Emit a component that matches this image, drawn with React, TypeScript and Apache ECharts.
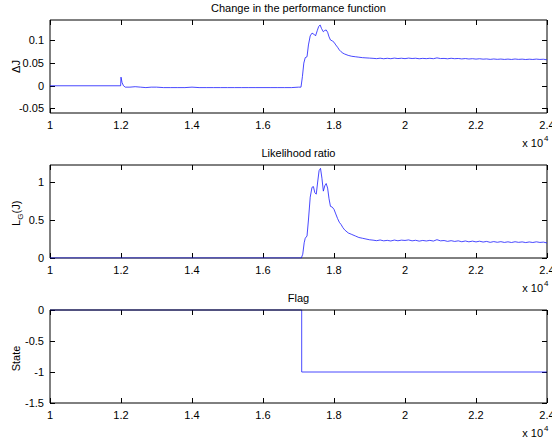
import React, { useEffect, useRef } from "react";
import * as echarts from "echarts";

// ---- Data ----
const dJTime = [
  10000, 11990, 12000, 12030, 12070, 12120, 12250, 12400, 12550, 12700, 12850, 13000, 13200, 13400, 13600, 13800,
  14000, 14200, 14400, 14600, 14800, 15000, 15200, 15400, 15600, 15800, 16000, 16200, 16400, 16600, 16800, 17000,
  17070, 17110, 17150, 17190, 17240, 17280, 17330, 17380, 17430, 17480, 17530, 17570, 17610, 17650, 17700, 17740,
  17780, 17820, 17860, 17900, 17950, 18000, 18050, 18100, 18150, 18200, 18250, 18300, 18400, 18500, 18600, 18700,
  18800, 18900, 19000, 19100, 19200, 19300, 19400, 19500, 19600, 19700, 19800, 19900, 20000, 20100, 20200, 20300,
  20400, 20500, 20600, 20700, 20800, 20900, 21000, 21100, 21200, 21300, 21400, 21500, 21600, 21700, 21800, 21900,
  22000, 22100, 22200, 22300, 22400, 22500, 22600, 22700, 22800, 22900, 23000, 23100, 23200, 23300, 23400, 23500,
  23600, 23700, 23800, 23900, 24000,
];
const dJValues = [
  0, 0, 0.019, 0.007, 0.0, -0.003, -0.003, -0.002, -0.003, -0.004, -0.003, -0.003, -0.004, -0.004, -0.004, -0.004,
  -0.003, -0.004, -0.004, -0.004, -0.004, -0.004, -0.004, -0.004, -0.004, -0.004, -0.004, -0.004, -0.004, -0.004, -0.004, -0.003,
  -0.003, 0.02, 0.05, 0.062, 0.064, 0.09, 0.11, 0.116, 0.114, 0.11, 0.122, 0.131, 0.134, 0.126, 0.119, 0.122,
  0.123, 0.118, 0.108, 0.101, 0.099, 0.096, 0.09, 0.085, 0.079, 0.075, 0.072, 0.07, 0.067, 0.065, 0.064, 0.063,
  0.062, 0.0615, 0.061, 0.0605, 0.0598, 0.0608, 0.0596, 0.0606, 0.0597, 0.061, 0.06, 0.0607, 0.0598, 0.061, 0.0601, 0.0607,
  0.0596, 0.0604, 0.0598, 0.0606, 0.0597, 0.0615, 0.06, 0.0603, 0.0595, 0.0606, 0.0597, 0.0602, 0.0592, 0.06, 0.059, 0.0597,
  0.0588, 0.0596, 0.0587, 0.0592, 0.0582, 0.0591, 0.0583, 0.0589, 0.0581, 0.0588, 0.058, 0.059, 0.0582, 0.0587, 0.0579, 0.0586,
  0.058, 0.0588, 0.0581, 0.0585, 0.0572,
];

const lrTime = [
  10000, 17080, 17120, 17160, 17190, 17240, 17280, 17330, 17380, 17420, 17460, 17500, 17540, 17580, 17620, 17660,
  17700, 17740, 17780, 17820, 17860, 17900, 17950, 18000, 18050, 18100, 18150, 18200, 18250, 18300, 18400, 18500,
  18600, 18700, 18800, 18900, 19000, 19100, 19200, 19300, 19400, 19500, 19600, 19700, 19800, 19900, 20000, 20100,
  20200, 20300, 20400, 20500, 20600, 20700, 20800, 20900, 21000, 21100, 21200, 21300, 21400, 21500, 21600, 21700,
  21800, 21900, 22000, 22100, 22200, 22300, 22400, 22500, 22600, 22700, 22800, 22900, 23000, 23100, 23200, 23300,
  23400, 23500, 23600, 23700, 23800, 23900, 24000,
];
const lrValues = [
  0, 0, 0.05, 0.2, 0.26, 0.29, 0.5, 0.8, 0.93, 0.94, 0.86, 0.84, 1.0, 1.15, 1.18, 1.05,
  0.88, 0.95, 0.98, 0.92, 0.78, 0.68, 0.67, 0.64, 0.58, 0.52, 0.47, 0.44, 0.4, 0.37, 0.33, 0.31,
  0.29, 0.27, 0.26, 0.25, 0.24, 0.235, 0.228, 0.237, 0.226, 0.232, 0.224, 0.236, 0.227, 0.235, 0.231, 0.238,
  0.226, 0.233, 0.222, 0.231, 0.224, 0.232, 0.223, 0.241, 0.226, 0.23, 0.219, 0.228, 0.218, 0.226, 0.214, 0.224,
  0.213, 0.222, 0.212, 0.221, 0.21, 0.218, 0.206, 0.216, 0.207, 0.215, 0.205, 0.213, 0.204, 0.214, 0.206, 0.212,
  0.203, 0.211, 0.204, 0.213, 0.205, 0.209, 0.198,
];

const flagTime = [10000, 17090, 17090, 24000];
const flagValues = [0, 0, -1, -1];

const titles = ["Change in the performance function", "Likelihood ratio", "Flag"];
const yTicks1 = [-0.05, 0, 0.05, 0.1];
const yTicks2 = [0, 0.5, 1];
const yTicks3 = [-1.5, -1, -0.5, 0];
const yRanges = [
  [-0.06, 0.145],
  [0, 1.224],
  [-1.5, 0],
];

const FONT = "Liberation Sans, Arial, Helvetica, sans-serif";
const GRID_LEFT = 50;
const GRID_WIDTH = 497;
const GRID_TOPS = [20, 165, 310];
const GRID_H = 93;

export default function App() {
  const ref = useRef<HTMLDivElement>(null);
  useEffect(() => {
    if (!ref.current) return;
    const chart = echarts.init(ref.current, null, { renderer: "svg" });
    const yTicks = [yTicks1, yTicks2, yTicks3];

    const grids = GRID_TOPS.map((top, i) => ({
      left: GRID_LEFT,
      top,
      width: GRID_WIDTH,
      height: GRID_H,
      show: true,
      borderColor: "#000",
      borderWidth: 1,
      containLabel: false,
      outerBoundsMode: "none",
      z: i === 2 ? 10 : 0,
    }));

    const xAxes: any[] = [];
    const yAxes: any[] = [];
    GRID_TOPS.forEach((_, i) => {
      const baseX = {
        type: "value",
        gridIndex: i,
        min: 10000,
        max: 24000,
        interval: 2000,
        axisLine: { show: false, onZero: false },
        splitLine: { show: false },
        axisTick: { show: true, inside: true, length: 5, lineStyle: { color: "#000", width: 1 } },
      };
      xAxes.push({
        ...baseX,
        position: "bottom",
        axisLabel: {
          show: true,
          margin: 6,
          color: "#000",
          fontSize: 11,
          fontFamily: FONT,
          hideOverlap: false,
          formatter: (v: number) => String(parseFloat((v / 10000).toFixed(2))),
        },
      });
      xAxes.push({ ...baseX, position: "top", axisLabel: { show: false } });

      const baseY = {
        type: "value",
        gridIndex: i,
        min: yRanges[i][0],
        max: yRanges[i][1],
        axisLine: { show: false, onZero: false },
        splitLine: { show: false },
        axisTick: {
          show: true,
          inside: true,
          length: 5,
          customValues: yTicks[i],
          lineStyle: { color: "#000", width: 1 },
        },
      };
      yAxes.push({
        ...baseY,
        position: "left",
        axisLabel: {
          show: true,
          margin: 6,
          color: "#000",
          fontSize: 11,
          fontFamily: FONT,
          customValues: yTicks[i],
          formatter: (v: number) => String(v),
        },
      });
      yAxes.push({ ...baseY, position: "right", axisLabel: { show: false } });
    });

    const lineStyle = { color: "#1a1aff", width: 0.8 };
    const series: any[] = [
      {
        type: "line",
        xAxisIndex: 0,
        yAxisIndex: 0,
        data: dJTime.map((t, k) => [t, dJValues[k]]),
        showSymbol: false,
        symbol: "none",
        lineStyle,
        clip: true,
      },
      {
        type: "line",
        xAxisIndex: 2,
        yAxisIndex: 2,
        data: lrTime.map((t, k) => [t, lrValues[k]]),
        showSymbol: false,
        symbol: "none",
        lineStyle,
        clip: true,
      },
      {
        type: "line",
        xAxisIndex: 4,
        yAxisIndex: 4,
        data: flagTime.map((t, k) => [t, flagValues[k]]),
        showSymbol: false,
        symbol: "none",
        lineStyle,
        clip: false,
        z: 1,
      },
    ];

    const cx = GRID_LEFT + GRID_WIDTH / 2;
    const textStyle = (text: string, size = 11, align = "center") => ({
      text,
      fill: "#000",
      font: `${size}px ${FONT}`,
      align,
      verticalAlign: "middle",
    });

    const graphic: any[] = [];
    GRID_TOPS.forEach((top, i) => {
      graphic.push({ type: "text", x: cx, y: top - 12, style: textStyle(titles[i]) });
      const by = top + GRID_H + 30;
      graphic.push({ type: "text", x: 543, y: by, style: textStyle("x 10", 11, "right") });
      graphic.push({ type: "text", x: 544, y: by - 5, style: textStyle("4", 8, "left") });
    });
    // y-axis names
    graphic.push({
      type: "text",
      x: 16,
      y: GRID_TOPS[0] + GRID_H / 2,
      rotation: Math.PI / 2,
      style: textStyle("ΔJ"),
    });
    graphic.push({
      type: "group",
      x: 16,
      y: GRID_TOPS[1] + GRID_H / 2 + 2,
      rotation: Math.PI / 2,
      children: [
        { type: "text", x: -12.5, y: 0, style: textStyle("L", 11, "left") },
        { type: "text", x: -6.3, y: 4, style: textStyle("G", 8, "left") },
        { type: "text", x: 0, y: 0, style: textStyle("(J)", 11, "left") },
      ],
    });
    graphic.push({
      type: "text",
      x: 16,
      y: GRID_TOPS[2] + GRID_H / 2 + 2,
      rotation: Math.PI / 2,
      style: textStyle("State"),
    });

    chart.setOption({
      animation: false,
      backgroundColor: "#fff",
      grid: grids,
      xAxis: xAxes,
      yAxis: yAxes,
      series,
      graphic,
    });
    return () => chart.dispose();
  }, []);
  return (
    <div
      ref={ref}
      style={{ position: "fixed", left: 0, top: 0, width: 552, height: 440, background: "#fff" }}
    />
  );
}
